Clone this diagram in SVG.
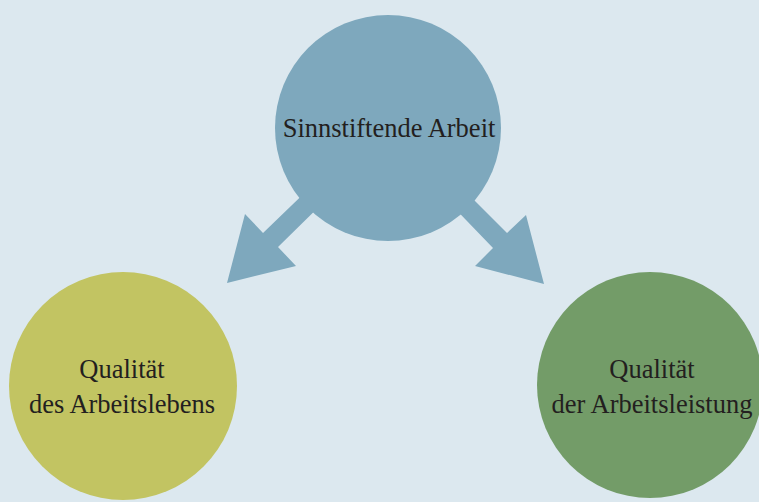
<svg xmlns="http://www.w3.org/2000/svg" width="759" height="502" viewBox="0 0 759 502">
<style>
.lbl{font-family:"Liberation Serif","DejaVu Serif",serif;font-size:26.5px;fill:#231f20;text-anchor:middle}
</style>
<rect width="759" height="502" fill="#dce8ef"/>
<g id="connectors" fill="#7ea8bd">
<polygon points="320,178 263,233 245,214 227,283 296,266 278,247 334,192"/>
<polygon points="454,180 507,233 526,215 544,284 475,266 493,248 440,193"/>
</g>
<g id="sinnstiftende">
<circle cx="388" cy="128" r="113" fill="#7ea8bd"/>
<text class="lbl" x="389" y="137">Sinnstiftende Arbeit</text>
</g>
<g id="arbeitsleben">
<circle cx="123" cy="386" r="114" fill="#c2c462"/>
<text class="lbl" x="122" y="378">Qualität</text>
<text class="lbl" x="122" y="413">des Arbeitslebens</text>
</g>
<g id="arbeitsleistung">
<circle cx="650" cy="385" r="113" fill="#739c68"/>
<text class="lbl" x="652" y="378">Qualität</text>
<text class="lbl" x="652" y="413">der Arbeitsleistung</text>
</g>
</svg>
